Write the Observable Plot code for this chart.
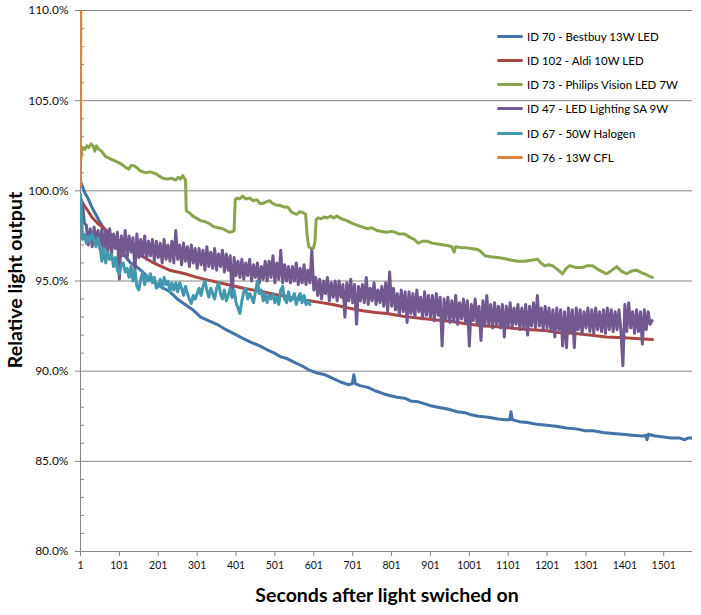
<!DOCTYPE html>
<html>
<head>
<meta charset="utf-8">
<script src="https://cdn.jsdelivr.net/npm/d3@7"></script>
<script src="https://cdn.jsdelivr.net/npm/@observablehq/plot@0.6"></script>
<style>
  html, body { margin: 0; padding: 0; background: #fff; }
  #wrap { position: relative; width: 701px; height: 615px; font-family: Lato, "Liberation Sans", sans-serif; }
  #wrap svg { position: absolute; left: 0; top: 0; }
  .ytitle { position: absolute; left: 14px; top: 280px; transform: translate(-50%, -50%) rotate(-90deg); font-weight: bold; font-size: 19.5px; white-space: nowrap; color: #000; }
  .xtitle { position: absolute; left: 387px; top: 594px; transform: translate(-50%, -50%); font-weight: bold; font-size: 19.5px; white-space: nowrap; color: #000; }
  .leg { position: absolute; left: 497px; height: 14px; display: flex; align-items: center; font-size: 11.5px; color: #000; white-space: nowrap; }
  .leg .sw { width: 26px; height: 3px; border-radius: 1.5px; margin-right: 4px; }
</style>
</head>
<body>
<div id="wrap"></div>
<script>
// ---------- Data ----------
const seriesNames = [
  "ID 70 - Bestbuy 13W LED",
  "ID 102 - Aldi 10W LED",
  "ID 73 - Philips Vision LED 7W",
  "ID 47 - LED Lighting SA 9W",
  "ID 67 - 50W Halogen",
  "ID 76 - 13W CFL"
];
const seriesColors = ["#4572A7", "#AA4643", "#89A54E", "#71588F", "#4198AF", "#DB843D"];

const yTickValues = [80, 85, 90, 95, 100, 105, 110];
const yMinorValues = [81,82,83,84,86,87,88,89,91,92,93,94,96,97,98,99,101,102,103,104,106,107,108,109];
const xTickValues = [1, 101, 201, 301, 401, 501, 601, 701, 801, 901, 1001, 1101, 1201, 1301, 1401, 1501];
const xDomain = [1, 1575];

// Bestbuy 13W LED: [seconds, relative output %]
const bestbuyT = [1,5,12,20,30,40,50,62,75,88,100,115,130,145,161,180,200,215,231,250,270,290,310,330,352,375,403,420,440,462,480,500,515,532,550,570,590,610,630,650,670,690,700,704,708,720,740,760,780,796,815,835,850,870,899,920,945,970,990,1002,1025,1050,1075,1095,1105,1108,1112,1130,1150,1175,1200,1225,1250,1275,1300,1320,1344,1370,1395,1420,1445,1455,1458,1462,1480,1500,1520,1540,1555,1565,1574];
const bestbuyV = [100.5,100.3,99.9,99.6,99.1,98.7,98.3,97.9,97.5,97.1,96.8,96.4,96.0,95.8,95.5,95.1,94.8,94.6,94.4,94.0,93.7,93.4,93.0,92.8,92.6,92.3,92.0,91.8,91.6,91.4,91.2,91.0,90.8,90.7,90.5,90.3,90.05,89.9,89.8,89.6,89.4,89.25,89.3,89.8,89.3,89.2,89.1,88.9,88.75,88.65,88.55,88.5,88.35,88.3,88.1,88.0,87.9,87.75,87.7,87.6,87.5,87.45,87.35,87.3,87.3,87.75,87.3,87.2,87.15,87.05,87.0,86.95,86.85,86.8,86.7,86.7,86.6,86.55,86.5,86.45,86.4,86.45,86.2,86.5,86.4,86.35,86.3,86.3,86.2,86.3,86.3];

// Aldi 10W LED
const aldiT = [1,5,10,20,30,45,60,75,90,105,125,145,165,185,200,230,270,300,330,370,420,470,500,530,557,590,620,650,690,727,760,789,830,869,910,956,1000,1041,1085,1126,1160,1195,1230,1267,1310,1354,1400,1439,1472];
const aldiV = [99.6,99.4,99.2,98.9,98.55,98.2,97.95,97.65,97.4,97.15,96.85,96.55,96.3,96.05,95.9,95.6,95.4,95.2,95.05,94.85,94.6,94.4,94.25,94.15,94.0,93.9,93.8,93.7,93.5,93.35,93.25,93.2,93.05,92.95,92.85,92.75,92.6,92.5,92.45,92.35,92.3,92.25,92.15,92.1,92.0,91.9,91.85,91.8,91.75];

// Philips Vision LED 7W
const philipsT = [1,4,8,12,18,22,28,33,38,42,48,55,62,66,75,85,95,105,117,125,131,138,145,155,169,180,195,205,213,225,235,246,252,258,264,268,271,273,280,290,298,310,320,331,345,355,367,375,385,393,396,399,403,410,418,426,436,445,455,462,470,480,488,495,505,513,525,534,545,557,565,573,580,584,588,595,601,604,607,612,620,628,634,645,652,660,672,686,700,712,725,737,750,763,776,789,800,810,822,835,850,860,869,880,894,905,920,935,948,956,962,966,980,989,1005,1023,1032,1041,1055,1074,1090,1110,1125,1143,1160,1177,1185,1195,1205,1215,1230,1241,1250,1259,1275,1292,1305,1318,1335,1354,1368,1380,1392,1405,1418,1431,1445,1457,1465,1472];
const philipsV = [101.6,102.2,102.4,102.3,102.5,102.4,102.6,102.5,102.2,102.5,102.3,102.2,102.0,101.9,101.8,101.7,101.6,101.5,101.3,101.2,101.4,101.4,101.3,101.1,101.0,101.05,100.95,100.8,100.7,100.65,100.7,100.6,100.75,100.65,100.85,100.7,100.6,98.9,98.8,98.6,98.5,98.35,98.3,98.2,98.0,97.95,97.9,97.8,97.7,97.75,97.8,99.5,99.6,99.55,99.7,99.55,99.6,99.45,99.5,99.3,99.3,99.4,99.45,99.3,99.2,99.2,99.1,99.1,98.8,98.7,98.85,98.8,98.7,97.5,96.9,96.8,96.85,97.2,98.4,98.5,98.45,98.55,98.5,98.6,98.5,98.6,98.45,98.35,98.2,98.1,98.0,97.9,97.95,97.8,97.75,97.7,97.75,97.7,97.6,97.6,97.4,97.3,97.1,97.2,97.2,97.1,97.05,97.0,96.95,96.9,96.6,96.9,96.85,96.85,96.8,96.75,96.6,96.4,96.35,96.3,96.25,96.15,96.1,96.1,96.15,96.2,96.0,95.85,95.9,95.85,95.6,95.4,95.7,95.85,95.75,95.75,95.85,95.85,95.6,95.4,95.6,95.8,95.55,95.4,95.55,95.6,95.45,95.35,95.25,95.2];

// LED Lighting SA 9W: one reading every 5 s from t = 1
const ledSaStart = 1, ledSaStep = 5;
const ledSaV = [
  98.6,99.3,98.2,98.1,97.0,97.9,96.9,98.0,97.1,97.8,96.8,97.9,
  96.7,97.8,96.6,97.9,96.5,97.6,96.8,97.7,95.1,97.5,96.4,97.8,
  96.3,97.5,96.6,97.4,95.6,97.6,96.3,97.3,96.4,97.5,96.2,97.2,
  96.4,97.3,96.1,97.2,96.3,97.1,96.0,97.3,96.2,97.0,96.1,97.2,
  96.0,97.8,96.2,97.0,95.9,97.1,96.1,96.9,95.8,97.0,96.0,96.8,
  95.7,96.8,95.9,96.7,95.6,96.9,95.8,96.6,95.7,96.8,95.6,96.5,
  95.8,96.7,95.5,96.5,95.6,96.4,94.1,96.3,95.3,96.1,95.2,96.2,
  95.1,96.0,95.3,96.2,95.0,95.9,95.2,96.0,94.9,95.8,95.1,96.1,
  95.0,96.1,95.2,96.4,94.9,96.0,95.1,96.7,94.9,95.9,95.0,95.8,
  94.9,95.8,95.0,96.0,94.8,95.7,94.9,95.9,94.8,95.6,94.9,96.7,
  94.5,95.2,94.2,95.1,94.0,95.0,94.3,95.2,93.9,94.9,94.1,95.0,
  93.9,95.0,94.1,94.8,93.0,94.9,93.9,95.1,93.8,94.8,92.6,94.7,
  93.9,94.8,93.8,95.2,93.7,94.6,93.9,94.9,93.7,94.5,93.8,94.7,
  93.6,94.9,93.3,95.5,93.6,94.6,93.4,94.3,93.1,94.5,93.3,94.4,
  92.7,94.4,93.2,94.3,93.0,94.5,93.3,94.1,92.9,94.4,93.1,94.2,
  93.0,94.2,92.8,94.3,93.1,94.1,91.4,94.0,92.9,94.1,92.7,93.9,
  92.8,94.2,92.6,93.8,92.9,94.0,92.7,93.9,91.4,93.7,92.8,94.0,
  92.6,93.6,91.7,93.9,92.5,94.2,92.6,93.7,92.4,93.8,92.6,93.6,
  92.4,93.7,91.9,93.6,92.5,93.8,92.4,93.5,92.6,93.7,92.3,93.5,
  92.4,93.7,92.0,93.6,92.5,93.8,92.4,94.2,92.5,93.5,92.3,93.6,
  92.4,93.5,92.2,93.4,91.9,93.5,92.3,93.4,91.4,93.3,91.3,93.5,
  92.2,93.4,91.3,93.5,92.3,93.4,92.1,93.3,92.4,93.5,92.2,93.4,
  92.1,93.5,92.3,93.3,92.2,93.4,92.1,93.5,92.3,93.4,92.2,93.3,
  92.3,93.4,92.2,90.3,93.7,92.2,93.8,92.4,93.3,92.1,93.4,92.2,
  93.3,91.5,93.4,92.3,93.3,92.6,92.8
];

// 50W Halogen: one reading every 5 s from t = 1
const halogenStart = 1, halogenStep = 5;
const halogenV = [
  99.8,97.3,97.6,97.1,97.5,97.2,97.6,97.3,96.9,97.4,
  96.9,96.1,96.8,96.0,96.6,96.2,96.5,95.8,96.3,95.6,
  95.4,95.9,96.0,95.5,95.7,95.2,95.8,95.0,95.6,94.7,
  94.5,95.1,95.5,94.8,95.3,95.0,95.4,94.9,95.2,94.6,
  94.7,95.1,94.6,95.2,94.8,95.0,94.4,94.9,94.5,94.9,
  94.4,94.9,94.6,94.2,94.7,94.3,94.0,93.75,94.2,94.0,
  94.3,94.6,94.2,94.7,95.0,94.5,94.1,94.6,94.3,94.0,
  94.6,94.9,94.3,94.0,94.5,93.9,94.2,94.6,94.1,94.5,
  93.8,93.5,93.2,93.9,94.4,94.6,94.0,94.3,94.1,93.8,
  94.4,95.0,94.3,94.5,93.9,94.3,93.8,94.2,94.0,94.3,
  93.8,94.1,93.7,94.5,94.7,94.0,93.8,94.4,93.9,94.0,
  94.3,93.7,94.1,94.3,93.8,94.2,93.7,93.9,93.7
];

// 13W CFL: only the start is inside the chart, the rest is above 110 %
const cflT = [1, 2, 3, 4, 5, 6];
const cflV = [100.3, 118, 126, 131, 134, 136];

// ---------- Build tables ----------
const pairs = (ts, vs) => ts.map((t, i) => ({t, v: vs[i]}));
const stepped = (start, step, vs) => vs.map((v, i) => ({t: start + i * step, v}));
const seriesData = [
  pairs(bestbuyT, bestbuyV),
  pairs(aldiT, aldiV),
  pairs(philipsT, philipsV),
  stepped(ledSaStart, ledSaStep, ledSaV),
  stepped(halogenStart, halogenStep, halogenV),
  pairs(cflT, cflV)
];

const axisGray = "#868686";
const lineMarks = seriesData.map((data, i) =>
  Plot.line(data, {x: "t", y: "v", stroke: seriesColors[i], strokeWidth: 3, strokeLinejoin: "round", strokeLinecap: "round", clip: true})
);

const chart = Plot.plot({
  width: 701,
  height: 615,
  marginLeft: 80,
  marginRight: 9,
  marginTop: 10,
  marginBottom: 64,
  style: {fontFamily: "Lato, 'Liberation Sans', sans-serif", background: "white", overflow: "visible"},
  x: {domain: xDomain},
  y: {domain: [80, 110]},
  marks: [
    Plot.gridY(yTickValues.filter(d => d > 80), {stroke: axisGray, strokeOpacity: 1, strokeWidth: 1}),
    Plot.tickY(yMinorValues, {y: d => d, stroke: axisGray, strokeWidth: 1, insetRight: 608}),
    Plot.axisY(yTickValues, {tickSize: 5, tickPadding: 7, tickFormat: d => d.toFixed(1) + "%", fontSize: 12, stroke: axisGray, fill: "#111", label: null}),
    Plot.axisX(xTickValues, {tickSize: 5, tickPadding: 5, tickFormat: d => String(d), fontSize: 10.5, stroke: axisGray, fill: "#111", label: null}),
    Plot.ruleY([80], {stroke: axisGray, strokeWidth: 1}),
    Plot.ruleX([xDomain[0]], {stroke: axisGray, strokeWidth: 1}),
    ...lineMarks
  ]
});

const wrap = document.getElementById("wrap");
wrap.appendChild(chart);

const yt = document.createElement("div");
yt.className = "ytitle";
yt.textContent = "Relative light output";
wrap.appendChild(yt);

const xt = document.createElement("div");
xt.className = "xtitle";
xt.textContent = "Seconds after light swiched on";
wrap.appendChild(xt);

seriesNames.forEach((name, i) => {
  const row = document.createElement("div");
  row.className = "leg";
  row.style.top = (29 + i * 24.3) + "px";
  const sw = document.createElement("span");
  sw.className = "sw";
  sw.style.background = seriesColors[i];
  const tx = document.createElement("span");
  tx.textContent = name;
  row.appendChild(sw);
  row.appendChild(tx);
  wrap.appendChild(row);
});
</script>
</body>
</html>
